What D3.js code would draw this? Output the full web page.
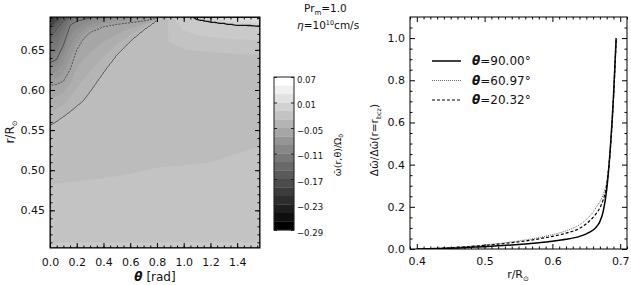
<!DOCTYPE html>
<html>
<head>
<meta charset="utf-8">
<script src="https://cdn.jsdelivr.net/npm/d3@7"></script>
<style>
  body { margin: 0; background: #fff; }
  svg text { font-family: "DejaVu Sans", "Liberation Sans", sans-serif; fill: #111; }
</style>
</head>
<body>
<svg id="fig" width="631" height="285"></svg>
<script>
// ---- left panel: contour field ----
// theta nodes (rad) where the position of each iso-line was read
const thetaNodes = [0, 0.05, 0.1, 0.15, 0.2, 0.25, 0.3, 0.4, 0.5, 0.6, 0.7, 0.8, 0.9, 1.0, 1.1, 1.2, 1.3, 1.4, 1.5708];
// iso-levels and their radius r/R at each theta node (values > 0.691 lie above the frame)
const lineLevels = [-0.03, -0.06, -0.10, -0.14, -0.18, -0.22, 0.0, 0.04];
const lineR = [
  [0.556, 0.561, 0.567, 0.573, 0.580, 0.587, 0.598, 0.622, 0.644, 0.661, 0.675, 0.687, 0.750, 0.760, 0.770, 0.780, 0.790, 0.800, 0.810],
  [0.606, 0.607, 0.611, 0.625, 0.650, 0.664, 0.672, 0.679, 0.682, 0.684, 0.686, 0.689, 0.760, 0.770, 0.780, 0.790, 0.800, 0.810, 0.820],
  [0.634, 0.638, 0.656, 0.681, 0.686, 0.688, 0.690, 0.693, 0.696, 0.699, 0.702, 0.705, 0.770, 0.780, 0.790, 0.800, 0.810, 0.820, 0.830],
  [0.665, 0.676, 0.686, 0.691, 0.695, 0.698, 0.700, 0.703, 0.706, 0.709, 0.712, 0.715, 0.780, 0.790, 0.800, 0.810, 0.820, 0.830, 0.840],
  [0.680, 0.688, 0.694, 0.699, 0.703, 0.706, 0.708, 0.711, 0.714, 0.717, 0.720, 0.723, 0.790, 0.800, 0.810, 0.820, 0.830, 0.840, 0.850],
  [0.691, 0.699, 0.706, 0.711, 0.716, 0.719, 0.721, 0.724, 0.727, 0.730, 0.733, 0.736, 0.800, 0.810, 0.820, 0.830, 0.840, 0.850, 0.860],
  [0.900, 0.900, 0.900, 0.900, 0.900, 0.900, 0.900, 0.900, 0.900, 0.900, 0.900, 0.800, 0.730, 0.697, 0.688, 0.685, 0.683, 0.681, 0.680],
  [0.950, 0.950, 0.950, 0.950, 0.950, 0.950, 0.950, 0.950, 0.950, 0.950, 0.950, 0.950, 0.950, 0.750, 0.720, 0.705, 0.698, 0.695, 0.692]
];
// the levels that carry a drawn contour line
const drawnLevels = [-0.03, -0.06, -0.10, -0.14, -0.18, 0.0];
// smooth background in the lower part of the domain
const bgR = [0.403, 0.41, 0.45, 0.49, 0.53, 0.57, 0.61, 0.64];
const bgTheta = [0, 0.4, 0.8, 1.2, 1.5708];
const bgVal = [
  [-0.008, -0.010, -0.016, -0.021, -0.026, -0.029, -0.032, -0.034],
  [-0.008, -0.010, -0.015, -0.020, -0.024, -0.026, -0.028, -0.029],
  [-0.008, -0.010, -0.015, -0.019, -0.022, -0.024, -0.025, -0.026],
  [-0.008, -0.010, -0.014, -0.019, -0.021, -0.022, -0.023, -0.024],
  [-0.008, -0.010, -0.014, -0.018, -0.020, -0.021, -0.022, -0.022]
];
// colour bar
const cbTicks = [0.07, 0.01, -0.05, -0.11, -0.17, -0.23, -0.29];

// ---- right panel: normalised profiles ----
const rVals    = [0.40, 0.42, 0.44, 0.46, 0.48, 0.50, 0.52, 0.54, 0.56, 0.58, 0.60, 0.62, 0.64, 0.65, 0.66, 0.665, 0.67, 0.675, 0.68, 0.685, 0.69, 0.694];
const prof90   = [0.000, 0.001, 0.003, 0.005, 0.008, 0.011, 0.015, 0.019, 0.024, 0.030, 0.037, 0.046, 0.060, 0.072, 0.090, 0.105, 0.130, 0.180, 0.280, 0.460, 0.720, 1.000];
const prof61   = [0.000, 0.002, 0.005, 0.009, 0.013, 0.019, 0.026, 0.034, 0.043, 0.054, 0.068, 0.086, 0.115, 0.140, 0.175, 0.200, 0.225, 0.260, 0.320, 0.460, 0.700, 0.980];
const prof20   = [0.000, 0.002, 0.004, 0.008, 0.012, 0.017, 0.023, 0.030, 0.038, 0.048, 0.060, 0.075, 0.098, 0.120, 0.150, 0.170, 0.195, 0.235, 0.300, 0.455, 0.710, 0.990];
const legendLabels = ["90.00°", "60.97°", "20.32°"];

const svg = d3.select("#fig");

// ================= left panel =================
const xL = d3.scaleLinear().domain([0, Math.PI / 2]).range([50, 260]);
const yL = d3.scaleLinear().domain([0.403, 0.691]).range([248, 17]);
const gray = d3.scaleLinear().domain([-0.29, 0.07]).range(["#000", "#fff"]).clamp(true);

function profileAt(th) {
  const lines = lineLevels.map((lv, k) =>
    [d3.scaleLinear().domain(thetaNodes).range(lineR[k])(th), lv]);
  const low = d3.min(lines, d => d[0]);
  const bg = bgR.map((r0, j) =>
    [r0, d3.scaleLinear().domain(bgTheta).range(bgVal.map(c => c[j]))(th)])
    .filter(d => d[0] < low - 0.015);
  return bg.concat(lines).sort((a, b) => a[0] - b[0]);
}

const W = 210, H = 231;
const values = new Array(W * H);
for (let i = 0; i < W; i++) {
  const th = xL.invert(50 + i + 0.5);
  const a = profileAt(th);
  const prof = d3.scaleLinear().domain(a.map(d => d[0])).range(a.map(d => d[1]));
  for (let j = 0; j < H; j++) {
    values[j * W + i] = prof(yL.invert(17 + j + 0.5));
  }
}

const proj = d3.geoTransform({ point(x, y) { this.stream.point(50 + x, 17 + y); } });
const path = d3.geoPath(proj);

svg.append("clipPath").attr("id", "clipL")
  .append("rect").attr("x", 50).attr("y", 17).attr("width", 210).attr("height", 231);

const gL = svg.append("g").attr("clip-path", "url(#clipL)");
const fillLevels = d3.range(-30, 8).map(k => k / 100);
gL.selectAll("path.fill")
  .data(d3.contours().size([W, H]).thresholds(fillLevels)(values))
  .enter().append("path")
  .attr("class", "fill")
  .attr("d", path)
  .attr("fill", d => gray(d.value + 0.005))
  .attr("stroke", d => gray(d.value + 0.005))
  .attr("stroke-width", 0.3);

const lineStyle = {
  "-0.03": { w: 0.8, dash: null, c: "#333" },
  "-0.06": { w: 0.8, dash: "2,1.2", c: "#333" },
  "-0.1": { w: 0.8, dash: null, c: "#333" },
  "-0.14": { w: 0.8, dash: "2,1.2", c: "#333" },
  "-0.18": { w: 0.8, dash: null, c: "#333" },
  "0": { w: 1.3, dash: null, c: "#111" }
};
gL.selectAll("path.iso")
  .data(d3.contours().size([W, H]).thresholds(drawnLevels)(values))
  .enter().append("path")
  .attr("class", "iso")
  .attr("d", path)
  .attr("fill", "none")
  .attr("stroke", d => lineStyle[String(d.value)].c)
  .attr("stroke-width", d => lineStyle[String(d.value)].w)
  .attr("stroke-dasharray", d => lineStyle[String(d.value)].dash);

// ---------- axes (ticks inward on all sides) ----------
function addAxes(x, y, o) {
  const [x0, x1] = x.range(), [y1, y0] = y.range();
  const add = (axis, tx, ty) => {
    const g = svg.append("g").attr("transform", `translate(${tx},${ty})`).call(axis);
    g.select(".domain").remove();
    g.selectAll("line").attr("stroke", "#000");
    g.selectAll("text").attr("fill", "#111").attr("font-size", o.fs);
    return g;
  };
  const bx = add(d3.axisBottom(x).tickValues(o.xMajor).tickSize(-5).tickFormat(o.xFmt), 0, y1);
  bx.selectAll("text").attr("y", o.xLabY).attr("dy", null);
  add(d3.axisBottom(x).tickValues(o.xMinor).tickSize(-2.5).tickFormat(""), 0, y1);
  add(d3.axisTop(x).tickValues(o.xMajor).tickSize(-5).tickFormat(""), 0, y0);
  add(d3.axisTop(x).tickValues(o.xMinor).tickSize(-2.5).tickFormat(""), 0, y0);
  add(d3.axisLeft(y).tickValues(o.yMajor).tickSize(-5).tickPadding(o.yPad).tickFormat(o.yFmt), x0, 0);
  add(d3.axisLeft(y).tickValues(o.yMinor).tickSize(-2.5).tickFormat(""), x0, 0);
  add(d3.axisRight(y).tickValues(o.yMajor).tickSize(-5).tickFormat(""), x1, 0);
  add(d3.axisRight(y).tickValues(o.yMinor).tickSize(-2.5).tickFormat(""), x1, 0);
  svg.append("rect").attr("x", x0).attr("y", y0)
    .attr("width", x1 - x0).attr("height", y1 - y0)
    .attr("fill", "none").attr("stroke", "#000").attr("stroke-width", 1);
}

addAxes(xL, yL, {
  xMajor: [0, 0.2, 0.4, 0.6, 0.8, 1.0, 1.2, 1.4],
  xMinor: d3.range(0.05, 1.56, 0.05),
  yMajor: [0.45, 0.50, 0.55, 0.60, 0.65],
  yMinor: d3.range(0.41, 0.6905, 0.01),
  xFmt: d3.format(".1f"), yFmt: d3.format(".2f"),
  xLabY: 18, yPad: 5, fs: 11
});

svg.append("text").attr("x", 155).attr("y", 281).attr("text-anchor", "middle")
  .attr("font-size", 12)
  .call(t => {
    t.append("tspan").attr("font-style", "italic").attr("font-weight", "bold").text("θ");
    t.append("tspan").text(" [rad]");
  });
svg.append("text").attr("transform", "translate(14,132) rotate(-90)")
  .attr("text-anchor", "middle").attr("font-size", 12)
  .call(t => {
    t.append("tspan").text("r/R");
    t.append("tspan").attr("font-size", 7).attr("dy", 3).text("⊙");
  });

// ---------- title ----------
svg.append("text").attr("x", 304).attr("y", 12).attr("font-size", 10.5)
  .call(t => {
    t.append("tspan").text("Pr");
    t.append("tspan").attr("font-size", 7).attr("dy", 2.5).text("m");
    t.append("tspan").attr("dy", -2.5).text("=1.0");
  });
svg.append("text").attr("x", 297).attr("y", 29).attr("font-size", 10.5)
  .call(t => {
    t.append("tspan").attr("font-style", "italic").text("η");
    t.append("tspan").text("=10");
    t.append("tspan").attr("font-size", 6.5).attr("dy", -4).text("10");
    t.append("tspan").attr("dy", 4).text("cm/s");
  });

// ---------- colour bar ----------
const cbX = 274, cbW = 20;
const yCB = d3.scaleLinear().domain([-0.29, 0.07]).range([230, 77]);
const bandEdges = d3.range(0, 18).map(k => -0.29 + 0.02 * k);
svg.selectAll("rect.cb").data(bandEdges).enter().append("rect")
  .attr("class", "cb")
  .attr("x", cbX).attr("width", cbW)
  .attr("y", d => yCB(d + 0.02))
  .attr("height", d => yCB(d) - yCB(d + 0.02))
  .attr("fill", (d, k) => d3.rgb(k * 255 / 17, k * 255 / 17, k * 255 / 17))
  .attr("stroke", (d, k) => d3.rgb(k * 255 / 17, k * 255 / 17, k * 255 / 17))
  .attr("stroke-width", 0.3);
svg.append("rect").attr("x", cbX).attr("y", 77).attr("width", cbW).attr("height", 153)
  .attr("fill", "none").attr("stroke", "#222").attr("stroke-width", 1);
const cbAxis = svg.append("g").attr("transform", `translate(${cbX + cbW},0)`)
  .call(d3.axisRight(yCB).tickValues(cbTicks).tickSize(-3).tickPadding(3).tickFormat(d3.format(".2f")));
cbAxis.select(".domain").remove();
cbAxis.selectAll("line").attr("stroke", "#222");
cbAxis.selectAll("text").attr("font-size", 8.5).attr("fill", "#111").attr("dy", "0.6em");
const cbAxisL = svg.append("g").attr("transform", `translate(${cbX},0)`)
  .call(d3.axisLeft(yCB).tickValues(cbTicks).tickSize(-3).tickFormat(""));
cbAxisL.select(".domain").remove();
cbAxisL.selectAll("line").attr("stroke", "#222");

svg.append("text").attr("transform", "translate(341,155) rotate(-90)")
  .attr("text-anchor", "middle").attr("font-size", 9.5)
  .call(t => {
    t.append("tspan").text("ω\u0304(r,θ)/Ω");
    t.append("tspan").attr("font-size", 6).attr("dy", 2).text("0");
  });

// ================= right panel =================
const xR = d3.scaleLinear().domain([0.39, 0.71]).range([410, 627]);
const yR = d3.scaleLinear().domain([0, 1.1]).range([249, 17]);

svg.append("clipPath").attr("id", "clipR")
  .append("rect").attr("x", 410).attr("y", 17).attr("width", 217).attr("height", 232);
const gR = svg.append("g").attr("clip-path", "url(#clipR)");

const series = [
  { data: prof90, w: 1.5, dash: null, c: "#000" },
  { data: prof61, w: 0.8, dash: "1,1", c: "#444" },
  { data: prof20, w: 1.2, dash: "3,2", c: "#000" }
];
const lineGen = d3.line().x(d => xR(d[0])).y(d => yR(d[1])).curve(d3.curveMonotoneX);
series.forEach(s => {
  gR.append("path")
    .datum(rVals.map((r, i) => [r, s.data[i]]))
    .attr("d", lineGen)
    .attr("fill", "none")
    .attr("stroke", s.c)
    .attr("stroke-width", s.w)
    .attr("stroke-dasharray", s.dash);
});

addAxes(xR, yR, {
  xMajor: [0.4, 0.5, 0.6, 0.7],
  xMinor: d3.range(39, 72).filter(k => k % 10 !== 0).map(k => k / 100),
  yMajor: [0, 0.2, 0.4, 0.6, 0.8, 1.0],
  yMinor: d3.range(1, 22).filter(k => k % 4 !== 0).map(k => k / 20),
  xFmt: d3.format(".1f"), yFmt: d3.format(".1f"),
  xLabY: 16, yPad: 5, fs: 11
});

// legend
legendLabels.forEach((lab, i) => {
  const y = 61 + i * 19.5;
  const s = series[i];
  svg.append("line").attr("x1", 432).attr("x2", 461).attr("y1", y).attr("y2", y)
    .attr("stroke", s.c).attr("stroke-width", s.w).attr("stroke-dasharray", s.dash);
  svg.append("text").attr("x", 472).attr("y", y).attr("dy", "0.36em").attr("font-size", 12)
    .call(t => {
      t.append("tspan").attr("font-style", "italic").attr("font-weight", "bold").text("θ");
      t.append("tspan").text("=" + lab);
    });
});

svg.append("text").attr("x", 518).attr("y", 278).attr("text-anchor", "middle").attr("font-size", 11)
  .call(t => {
    t.append("tspan").text("r/R");
    t.append("tspan").attr("font-size", 7).attr("dy", 2.5).text("⊙");
  });
svg.append("text").attr("transform", "translate(378,140) rotate(-90)")
  .attr("text-anchor", "middle").attr("font-size", 10.5)
  .call(t => {
    t.append("tspan").text("Δω\u0304/Δω\u0304(r=r");
    t.append("tspan").attr("font-size", 6.5).attr("dy", 2.5).text("bcz");
    t.append("tspan").attr("dy", -2.5).text(")");
  });
</script>
</body>
</html>
